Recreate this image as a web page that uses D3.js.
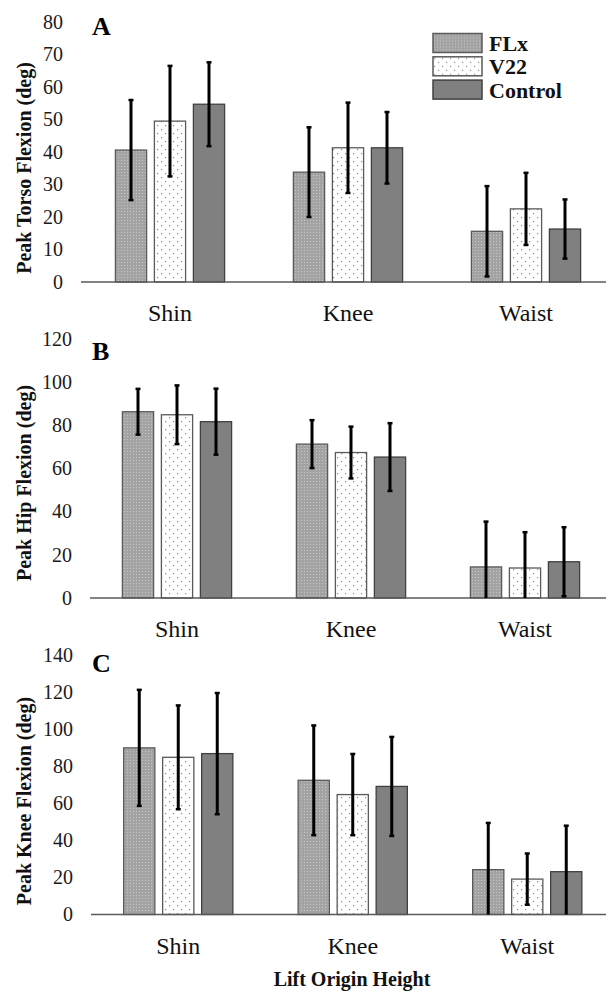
<!DOCTYPE html>
<html>
<head>
<meta charset="utf-8">
<script src="https://cdn.jsdelivr.net/npm/d3@7"></script>
<style>
  body { margin: 0; background: #fff; }
  svg { display: block; font-family: "Liberation Serif", "Times New Roman", serif; }
</style>
</head>
<body>
<script>
// categories / groups
var categories = ["Shin", "Knee", "Waist"];
var series = ["FLx", "V22", "Control"];

// means per category, in series order (FLx, V22, Control)
var torsoMean = [[40.6, 49.5, 54.7], [33.8, 41.3, 41.3], [15.6, 22.5, 16.3]];
var torsoSD   = [[15.4, 17.0, 12.9], [13.8, 13.9, 11.0], [13.9, 11.1, 9.1]];
var hipMean   = [[86.3, 84.9, 81.7], [71.3, 67.4, 65.3], [14.4, 13.9, 16.8]];
var hipSD     = [[10.6, 13.6, 15.3], [11.1, 12.0, 15.7], [21.0, 16.6, 16.0]];
var kneeMean  = [[89.9, 84.8, 86.8], [72.4, 64.7, 69.1], [24.2, 19.1, 23.1]];
var kneeSD    = [[31.3, 28.0, 32.7], [29.6, 21.9, 26.7], [25.2, 13.8, 24.8]];

var torsoTicks = d3.range(0, 81, 10);
var hipTicks = d3.range(0, 121, 20);
var kneeTicks = d3.range(0, 141, 20);

var width = 606, height = 992;

var svg = d3.select("body").append("svg")
  .attr("width", width)
  .attr("height", height);

// fill patterns
var defs = svg.append("defs");
var p1 = defs.append("pattern").attr("id", "patFLx")
  .attr("patternUnits", "userSpaceOnUse").attr("width", 3).attr("height", 3);
p1.append("rect").attr("width", 3).attr("height", 3).attr("fill", "#a3a3a3");
p1.append("rect").attr("x", 1).attr("y", 1).attr("width", 1).attr("height", 1).attr("fill", "#c4c4c4");

var p2 = defs.append("pattern").attr("id", "patV22")
  .attr("patternUnits", "userSpaceOnUse").attr("width", 8).attr("height", 8);
p2.append("rect").attr("width", 8).attr("height", 8).attr("fill", "#ffffff");
p2.append("rect").attr("x", 1).attr("y", 1).attr("width", 1.2).attr("height", 1.2).attr("fill", "#8c8c8c");
p2.append("rect").attr("x", 5).attr("y", 5).attr("width", 1.2).attr("height", 1.2).attr("fill", "#8c8c8c");

var fills = { FLx: "url(#patFLx)", V22: "url(#patV22)", Control: "#808080" };
var strokes = { FLx: "#5a5a5a", V22: "#5a5a5a", Control: "#404040" };

var panels = [
  { letter: "A", title: "Peak Torso Flexion (deg)", mean: torsoMean, sd: torsoSD, ticks: torsoTicks,
    x0: 81, x1: 615, y0: 282, yTop: 22, titleY: 168, letterY: 35, legend: true },
  { letter: "B", title: "Peak Hip Flexion (deg)", mean: hipMean, sd: hipSD, ticks: hipTicks,
    x0: 90, x1: 612, y0: 598, yTop: 339, titleY: 483, letterY: 360, legend: false },
  { letter: "C", title: "Peak Knee Flexion (deg)", mean: kneeMean, sd: kneeSD, ticks: kneeTicks,
    x0: 91, x1: 614.5, y0: 914.5, yTop: 655, titleY: 801, letterY: 672, legend: false }
];

panels.forEach(function (p) {
  var g = svg.append("g");

  var x = d3.scaleBand().domain(categories).range([p.x0, p.x1]);
  var xs = d3.scaleBand().domain(series).range([-58.5, 58.5])
    .paddingInner(0.2).paddingOuter(0.1);
  var y = d3.scaleLinear()
    .domain([0, p.ticks[p.ticks.length - 1]])
    .range([p.y0, p.yTop]);

  // tick labels
  g.selectAll(".tick").data(p.ticks).enter().append("text")
    .attr("x", p.x0 - 18)
    .attr("y", function (d) { return y(d); })
    .attr("dy", "0.34em")
    .attr("text-anchor", "end")
    .attr("font-size", 20)
    .attr("fill", "#1a1a1a")
    .text(function (d) { return d; });

  // bars
  var rows = [];
  categories.forEach(function (c, i) {
    series.forEach(function (s, j) {
      rows.push({ cat: c, ser: s, mean: p.mean[i][j], sd: p.sd[i][j] });
    });
  });

  g.selectAll(".bar").data(rows).enter().append("rect")
    .attr("x", function (d) { return x(d.cat) + x.bandwidth() / 2 + xs(d.ser); })
    .attr("y", function (d) { return y(d.mean); })
    .attr("width", xs.bandwidth())
    .attr("height", function (d) { return p.y0 - y(d.mean); })
    .attr("fill", function (d) { return fills[d.ser]; })
    .attr("stroke", function (d) { return strokes[d.ser]; })
    .attr("stroke-width", 1.3);

  // axis line
  g.append("line")
    .attr("x1", p.x0).attr("x2", width)
    .attr("y1", p.y0).attr("y2", p.y0)
    .attr("stroke", "#5a5a5a").attr("stroke-width", 1.5);

  // error bars
  var eb = g.selectAll(".err").data(rows).enter().append("g")
    .attr("transform", function (d) {
      return "translate(" + (x(d.cat) + x.bandwidth() / 2 + xs(d.ser) + xs.bandwidth() / 2) + ",0)";
    });
  eb.append("line")
    .attr("y1", function (d) { return y(d.mean + d.sd); })
    .attr("y2", function (d) { return y(Math.max(0, d.mean - d.sd)); })
    .attr("stroke", "#000").attr("stroke-width", 3);
  eb.append("line")
    .attr("x1", -2.5).attr("x2", 2.5)
    .attr("y1", function (d) { return y(d.mean + d.sd); })
    .attr("y2", function (d) { return y(d.mean + d.sd); })
    .attr("stroke", "#000").attr("stroke-width", 2.5);
  eb.filter(function (d) { return d.mean - d.sd > 0; }).append("line")
    .attr("x1", -2.5).attr("x2", 2.5)
    .attr("y1", function (d) { return y(d.mean - d.sd); })
    .attr("y2", function (d) { return y(d.mean - d.sd); })
    .attr("stroke", "#000").attr("stroke-width", 2.5);

  // category labels
  g.selectAll(".cat").data(categories).enter().append("text")
    .attr("x", function (d) { return x(d) + x.bandwidth() / 2; })
    .attr("y", p.y0 + 39)
    .attr("text-anchor", "middle")
    .attr("font-size", 24)
    .attr("fill", "#111")
    .text(function (d) { return d; });

  // y title
  g.append("text")
    .attr("transform", "translate(31," + p.titleY + ") rotate(-90)")
    .attr("text-anchor", "middle")
    .attr("font-size", 20)
    .attr("font-weight", "bold")
    .attr("fill", "#111")
    .text(p.title);

  // panel letter
  g.append("text")
    .attr("x", 92).attr("y", p.letterY)
    .attr("font-size", 26)
    .attr("font-weight", "bold")
    .attr("fill", "#000")
    .text(p.letter);

  if (p.legend) {
    var lg = g.selectAll(".leg").data(series).enter().append("g")
      .attr("transform", function (d, i) { return "translate(433," + (33.5 + i * 23.3) + ")"; });
    lg.append("rect")
      .attr("width", 49).attr("height", 19)
      .attr("fill", function (d) { return fills[d]; })
      .attr("stroke", function (d) { return strokes[d]; })
      .attr("stroke-width", 1.5);
    lg.append("text")
      .attr("x", 56).attr("y", 17.5)
      .attr("font-size", 22)
      .attr("font-weight", "bold")
      .attr("fill", "#111")
      .text(function (d) { return d; });
  }
});

// x title
svg.append("text")
  .attr("x", 352).attr("y", 986)
  .attr("text-anchor", "middle")
  .attr("font-size", 20)
  .attr("font-weight", "bold")
  .attr("fill", "#111")
  .text("Lift Origin Height");
</script>
</body>
</html>
